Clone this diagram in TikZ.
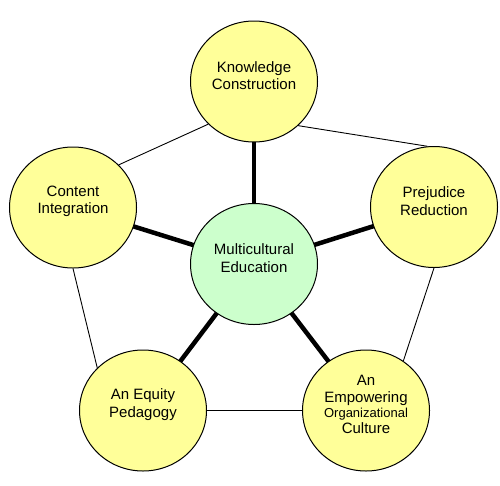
\documentclass[tikz,border=0pt]{standalone}
\usepackage{fontspec}
\setmainfont{Liberation Sans}
\usetikzlibrary{shapes.geometric,backgrounds}
\definecolor{cyel}{HTML}{FFFF99}
\definecolor{cgrn}{HTML}{CCFFCC}
\begin{document}
\begin{tikzpicture}[x=1pt,y=-1pt,
  circ/.style={ellipse,draw=black,line width=1pt,minimum width=127pt,minimum height=121pt,inner sep=0pt,fill=cyel},
  txt/.style={font=\fontsize{15}{17.6}\selectfont,align=center,inner sep=0pt,yshift=6pt},
  spoke/.style={line width=4.5pt},
  rim/.style={line width=0.9pt}]
\useasboundingbox (0,0) rectangle (500,485);
\node[circ] (K) at (254,81.5) {};
\node[circ,fill=cgrn] (M) at (254,264) {};
\node[circ] (C) at (73,207.5) {};
\node[circ] (P) at (434,207) {};
\node[circ] (E) at (143,410.5) {};
\node[circ] (O) at (366,410.5) {};
\node[txt] (Kt) at (K) {Knowledge\\Construction};
\node[txt] (Mt) at (M) {Multicultural\\Education};
\node[txt] (Ct) at (C) {Content\\Integration};
\node[txt] (Pt) at (P) {Prejudice\\Reduction};
\node[txt] (Et) at (E) {An Equity\\Pedagogy};
\node[txt,font=\fontsize{15}{16.7}\selectfont] (Ot) at (O) {An\\Empowering\\[-1.7pt]{\fontsize{13}{15}\selectfont Organizational}\\Culture};
\begin{pgfonlayer}{background}
\draw[spoke] (M.center) -- (K.center);
\draw[spoke] (M.center) -- (C.center);
\draw[spoke] (M.center) -- (P.center);
\draw[spoke] (M.center) -- (E.center);
\draw[spoke] (M.center) -- (O.center);
\draw[rim] (C.43) -- (K.223);
\draw[rim] (K.-45) -- (P.96);
\draw[rim] (C.270) -- (E.137);
\draw[rim] (P.270) -- (O.53);
\draw[rim] (E.center) -- (O.center);
\end{pgfonlayer}
\end{tikzpicture}
\end{document}
